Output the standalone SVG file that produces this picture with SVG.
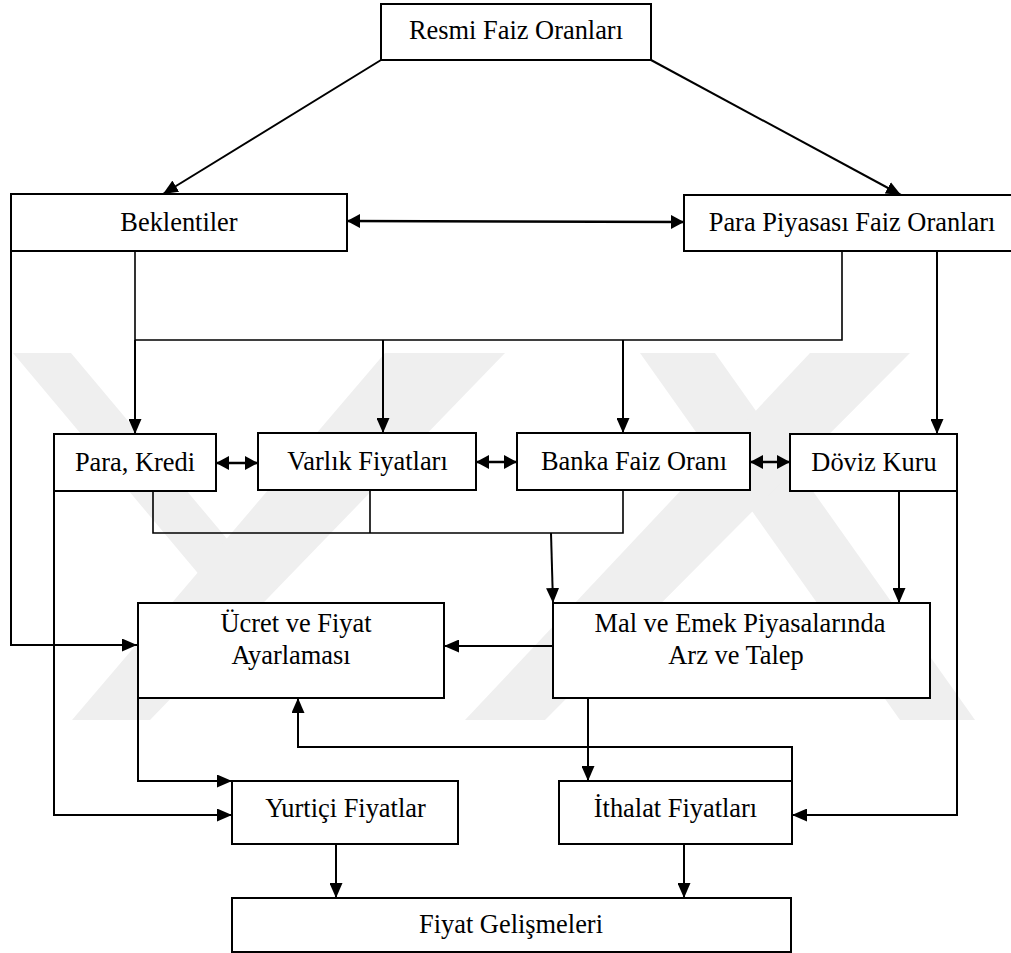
<svg xmlns="http://www.w3.org/2000/svg" width="1011" height="953" viewBox="0 0 1011 953">
<style>
.box{fill:#fff;stroke:#000;stroke-width:2}
.t{font-family:"Liberation Serif","Times New Roman",serif;font-size:26.4px;fill:#000;text-anchor:middle}
.ln{fill:none;stroke:#000;stroke-width:1.6}
.ar{fill:none;stroke:#000;stroke-width:2;marker-end:url(#ah)}
.da{fill:none;stroke:#000;stroke-width:2.5;marker-start:url(#dh);marker-end:url(#dh)}
.wm{fill:#efefef}
</style>
<defs>
<marker id="ah" viewBox="0 0 15 13" refX="15" refY="6.5" markerWidth="15" markerHeight="13" markerUnits="userSpaceOnUse" orient="auto">
<path d="M0,0 L15,6.5 L0,13 Z" fill="#000"/>
</marker>
<marker id="dh" viewBox="0 0 13 14" refX="13" refY="7" markerWidth="13" markerHeight="14" markerUnits="userSpaceOnUse" orient="auto-start-reverse">
<path d="M0,0 L13,7 L0,14 Z" fill="#000"/>
</marker>
</defs>
<rect width="1011" height="953" fill="#fff"/>
<g id="watermark">
<polygon class="wm" points="13,353 71,353 270,590 212,590"/>
<polygon class="wm" points="385,353 505,353 150,720 72,720"/>
<polygon class="wm" points="640,353 715,353 975,720 900,720"/>
<polygon class="wm" points="810,353 910,353 545,720 465,720"/>
</g>
<g id="connectors">
<line class="ar" x1="381" y1="60" x2="163" y2="194"/>
<line class="ar" x1="651" y1="60" x2="901" y2="195"/>
<line class="da" x1="347" y1="221" x2="684" y2="222"/>
<polyline class="ln" points="135,251 135,340 842,340 842,251"/>
<line class="ar" x1="135" y1="340" x2="135" y2="434"/>
<line class="ar" x1="383" y1="340" x2="383" y2="433"/>
<line class="ar" x1="623" y1="340" x2="623" y2="433"/>
<line class="ar" x1="937" y1="251" x2="937" y2="434"/>
<polyline class="ar" points="11,251 11,645 137,645"/>
<line class="da" x1="216" y1="463" x2="258" y2="463"/>
<line class="da" x1="476" y1="462" x2="517" y2="462"/>
<line class="da" x1="750" y1="462" x2="790" y2="462"/>
<polyline class="ln" points="153,491 153,533 623,533 623,490"/>
<line class="ln" x1="370" y1="490" x2="370" y2="533"/>
<line class="ar" x1="551" y1="533" x2="553" y2="603"/>
<line class="ar" x1="899" y1="491" x2="899" y2="603"/>
<line class="ar" x1="553" y1="646" x2="444" y2="646"/>
<polyline class="ar" points="54,491 54,815 232,815"/>
<polyline class="ar" points="138,698 138,781 232,781"/>
<line class="ar" x1="588" y1="698" x2="588" y2="781"/>
<polyline class="ar" points="792,781 792,747 298,747 298,698"/>
<polyline class="ar" points="957,491 957,815 792,815"/>
<line class="ar" x1="336" y1="844" x2="336" y2="898"/>
<line class="ar" x1="684" y1="844" x2="684" y2="898"/>
</g>
<g id="resmi">
<rect class="box" x="381" y="4" width="270" height="56"/>
<text class="t" x="516" y="39" textLength="214" lengthAdjust="spacing">Resmi Faiz Oranları</text>
</g>
<g id="beklentiler">
<rect class="box" x="11" y="194" width="336" height="57"/>
<text class="t" x="179" y="231">Beklentiler</text>
</g>
<g id="para-piyasasi">
<rect class="box" x="684" y="195" width="336" height="56"/>
<text class="t" x="852" y="231">Para Piyasası Faiz Oranları</text>
</g>
<g id="para-kredi">
<rect class="box" x="54" y="434" width="162" height="57"/>
<text class="t" x="135" y="471">Para, Kredi</text>
</g>
<g id="varlik">
<rect class="box" x="258" y="433" width="218" height="57"/>
<text class="t" x="367.5" y="470">Varlık Fiyatları</text>
</g>
<g id="banka">
<rect class="box" x="517" y="433" width="233" height="57"/>
<text class="t" x="634" y="470">Banka Faiz Oranı</text>
</g>
<g id="doviz">
<rect class="box" x="790" y="434" width="167" height="57"/>
<text class="t" x="874" y="471">Döviz Kuru</text>
</g>
<g id="ucret">
<rect class="box" x="138" y="603" width="306" height="95"/>
<text class="t" x="296" y="632">Ücret ve Fiyat</text>
<text class="t" x="291" y="664">Ayarlaması</text>
</g>
<g id="mal">
<rect class="box" x="553" y="603" width="377" height="95"/>
<text class="t" x="740" y="632">Mal ve Emek Piyasalarında</text>
<text class="t" x="736" y="664">Arz ve Talep</text>
</g>
<g id="yurtici">
<rect class="box" x="232" y="781" width="226" height="63"/>
<text class="t" x="345.5" y="817">Yurtiçi Fiyatlar</text>
</g>
<g id="ithalat">
<rect class="box" x="559" y="781" width="233" height="63"/>
<text class="t" x="675.5" y="817">İthalat Fiyatları</text>
</g>
<g id="fiyat">
<rect class="box" x="232" y="898" width="559" height="54"/>
<text class="t" x="511" y="933">Fiyat Gelişmeleri</text>
</g>
</svg>
